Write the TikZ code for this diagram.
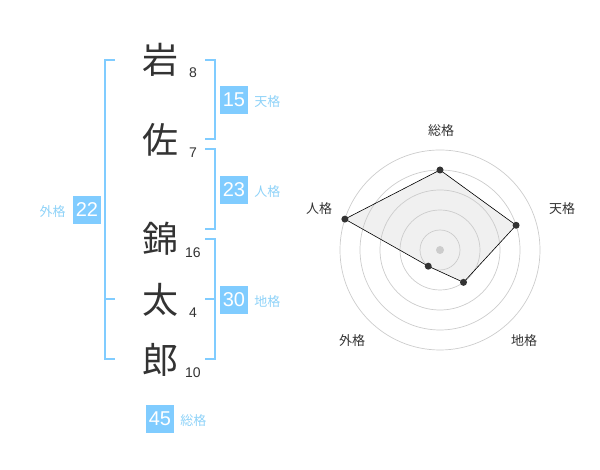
\documentclass[tikz,border=0pt]{standalone}
\usepackage{fontspec}
\setmainfont{Noto Sans CJK JP}
\newfontfamily\suji{Liberation Sans}
\usetikzlibrary{positioning}
\definecolor{kaku}{HTML}{80CCFF}
\definecolor{kakutext}{HTML}{8ED2F8}
\definecolor{ink}{HTML}{333333}
\definecolor{ring}{HTML}{CCCCCC}

\begin{document}
\begin{tikzpicture}[x=1pt,y=1pt,
    moji/.style={text=ink, font=\fontsize{36}{36}\selectfont, inner sep=0pt},
    kazu/.style={text=ink, font=\suji\fontsize{14}{14}\selectfont, inner sep=0pt},
    waku/.style={draw=kaku, line width=2pt},
    kbox/.style={fill=kaku, text=white, minimum size=28pt, inner sep=0pt, font=\suji\fontsize{20}{20}\selectfont},
    kname/.style={text=kakutext, font=\fontsize{13}{13}\selectfont, inner sep=0pt},
    rname/.style={text=ink, font=\fontsize{13}{13}\selectfont, inner sep=0pt}]
    \useasboundingbox (0,0) rectangle (600,470);
    % name
    \node[moji] (c1) at (160,410) {岩};
    \node[moji] (c2) at (160,330) {佐};
    \node[moji] (c3) at (160,231) {錦};
    \node[moji] (c4) at (160,170) {太};
    \node[moji] (c5) at (160,110) {郎};
    \node[kazu] (n1) at (193,397) {8};
    \node[kazu] (n2) at (193,317) {7};
    \node[kazu] (n3) at (193,217) {16};
    \node[kazu] (n4) at (193,157) {4};
    \node[kazu] (n5) at (193,97) {10};
    % brackets
    \draw[waku] (205,410) -- (215,410) -- (215,331) -- (205,331);
    \draw[waku] (205,321) -- (215,321) -- (215,241) -- (205,241);
    \draw[waku] (205,231) -- (215,231) -- (215,111) -- (205,111);
    \draw[waku] (205,171) -- (215,171);
    \draw[waku] (115,410) -- (105,410) -- (105,111) -- (115,111);
    \draw[waku] (105,171) -- (115,171);
    % totals
    \node[kbox] (ten) at (234,370) {15};
    \node[kbox] (jin) at (234,280) {23};
    \node[kbox] (chi) at (234,170) {30};
    \node[kbox] (gai) at (87,260) {22};
    \node[kbox] (sou) at (160,51) {45};
    \node[kname, right=6pt of ten.base east, anchor=base west] (ten-l) {天格};
    \node[kname, right=6pt of jin.base east, anchor=base west] (jin-l) {人格};
    \node[kname, right=6pt of chi.base east, anchor=base west] (chi-l) {地格};
    \node[kname, left=7pt of gai.base west, anchor=base east] (gai-l) {外格};
    \node[kname, right=6pt of sou.base east, anchor=base west] (sou-l) {総格};
    % radar
    \begin{scope}[shift={(440,220)}]
      \coordinate (r-sou) at (90:80);
      \coordinate (r-ten) at (18:80);
      \coordinate (r-chi) at (-54:40);
      \coordinate (r-gai) at (-126:20);
      \coordinate (r-jin) at (162:100);
      \fill[ring!30] (r-sou) -- (r-ten) -- (r-chi) -- (r-gai) -- (r-jin) -- cycle;
      \foreach \r in {20,40,...,100}
        \draw[ring, line width=0.7pt] (0,0) circle (\r);
      \draw[black, line width=0.6pt] (r-sou) -- (r-ten) -- (r-chi) -- (r-gai) -- (r-jin) -- cycle;
      \foreach \p in {r-sou,r-ten,r-chi,r-gai,r-jin}
        \fill[ink] (\p) circle (3.5);
      \fill[ring] (0,0) circle (4);
      \node[rname] (l-sou) at (1,119) {総格};
      \node[rname] (l-ten) at (122,41) {天格};
      \node[rname] (l-chi) at (84,-91) {地格};
      \node[rname] (l-gai) at (-88,-91) {外格};
      \node[rname] (l-jin) at (-121,41) {人格};
    \end{scope}
\end{tikzpicture}
\end{document}
